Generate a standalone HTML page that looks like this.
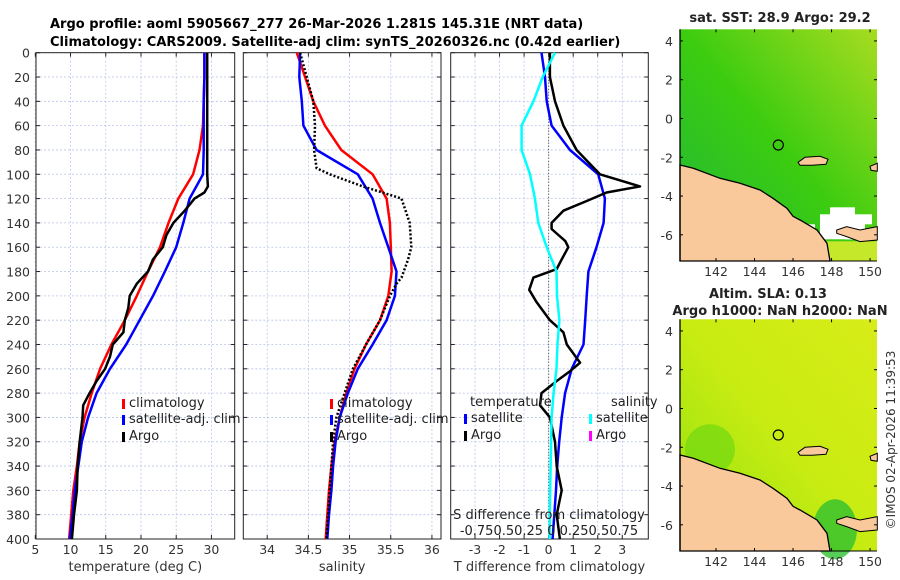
<!DOCTYPE html>
<html><head><meta charset="utf-8"><style>
body{margin:0;background:#fff;width:900px;height:580px;overflow:hidden}
svg{display:block;font-family:"DejaVu Sans","Liberation Sans",sans-serif}
</style></head><body>
<svg id="fig" width="900" height="580" viewBox="0 0 900 580">
<text x="50" y="28" font-size="13" font-weight="bold">Argo profile: aoml 5905667_277 26-Mar-2026 1.281S 145.31E (NRT data)</text>
<text x="50" y="46" font-size="13" font-weight="bold">Climatology: CARS2009. Satellite-adj clim: synTS_20260326.nc (0.42d earlier)</text>
<g id="panels"></g>
<g id="maps"></g>
<text transform="translate(895,440) rotate(-90)" text-anchor="middle" font-size="12" fill="#333">©IMOS 02-Apr-2026 11:39:53</text>
</svg>
<script>
// ---- data ----
const depths = [0,20,40,60,80,100,120,140,160,180,200,220,240,260,280,300,320,340,360,380,400];
const tClim = [29.0,29.0,28.9,28.8,28.3,27.4,25.3,23.9,22.7,21.0,19.4,17.7,15.8,14.2,13.0,12.0,11.3,10.9,10.4,10.1,9.8];
const tSat = [29.0,29.0,28.9,28.9,28.9,28.8,26.9,26.0,25.0,23.4,21.7,19.8,17.9,15.6,13.7,12.5,11.6,11.1,10.6,10.3,9.9];
const argoDepthT = [0,50,100,110,115,120,130,140,150,160,170,180,190,200,210,220,230,240,250,260,270,280,290,300,320,340,360,380,400];
const tArgo = [29.4,29.4,29.4,29.5,29.0,27.6,26.2,24.6,23.6,23.1,21.7,21.0,19.4,18.4,18.2,17.7,17.5,16.0,15.6,14.9,13.7,12.7,11.8,11.7,11.3,11.0,10.9,10.5,10.2];
const sClim = [34.36,34.46,34.56,34.70,34.90,35.28,35.45,35.49,35.50,35.51,35.47,35.37,35.20,35.06,34.96,34.88,34.82,34.78,34.75,34.73,34.71];
const sSat = [34.40,34.39,34.42,34.44,34.60,35.10,35.28,35.37,35.47,35.57,35.55,35.45,35.28,35.10,34.98,34.88,34.83,34.80,34.78,34.75,34.73];
const argoDepthS = [0,20,40,60,80,95,100,110,115,120,140,160,170,185,190,200,220,240,260,280,300,320,340,360,380,400];
const sArgo = [34.40,34.48,34.56,34.58,34.57,34.60,34.76,35.16,35.40,35.63,35.73,35.75,35.71,35.63,35.57,35.49,35.37,35.20,35.04,34.94,34.84,34.80,34.78,34.76,34.74,34.72];
const dtSat = [-0.29,-0.15,-0.08,0.12,0.87,2.02,2.29,2.24,1.95,1.62,1.55,1.49,1.42,0.94,0.67,0.53,0.43,0.35,0.30,0.23,0.16];
const argoDepthD = [0,20,40,60,80,100,110,115,122,130,140,145,155,160,170,178,185,195,205,220,230,240,255,262,270,280,290,300,320,340,360,380,400];
const dtArgo = [0.05,0.05,0.26,0.6,1.14,2.09,3.72,2.36,1.55,0.6,0.12,0.12,0.68,0.8,0.53,0.33,-0.62,-0.79,-0.5,0.05,0.6,0.74,1.28,0.87,0.33,-0.29,-0.35,0.05,0.26,0.33,0.53,0.33,0.46];
const dsSat = [0.065,-0.06,-0.155,-0.275,-0.275,-0.19,-0.14,-0.105,-0.02,0.08,0.085,0.11,0.09,0.08,0.05,0.03,0.025,0.02,0.015,0.012,0.01];
const yTicks = [0,20,40,60,80,100,120,140,160,180,200,220,240,260,280,300,320,340,360,380,400];
const tTicks = [5,10,15,20,25,30];
const sTicks = [34,34.5,35,35.5,36];
const dTicks = [-3,-2,-1,0,1,2,3];

const NS='http://www.w3.org/2000/svg';
function mk(tag,attrs,parent){const e=document.createElementNS(NS,tag);for(const k in attrs)e.setAttribute(k,attrs[k]);(parent||document.getElementById('panels')).appendChild(e);return e;}
const Y0=52.7,Y1=539;
const yS=d=>Y0+(Y1-Y0)*d/400;

function panel(name,x0,x1,vmin,vmax,xt,title){
  const g=mk('g',{});
  
  
  const xS=v=>x0+(x1-x0)*(v-vmin)/(vmax-vmin);
  xt.forEach(v=>{const l=mk('line',{x1:xS(v),x2:xS(v),y1:Y0,y2:Y1,stroke:'#b8c4e8','stroke-width':0.8,'stroke-dasharray':'2,2'},g);});
  yTicks.forEach(d=>{const l=mk('line',{x1:x0,x2:x1,y1:yS(d),y2:yS(d),stroke:'#b8c4e8','stroke-width':0.8,'stroke-dasharray':'2,2'},g);});
  const ax=mk('g',{},g);
  mk('rect',{x:x0,y:Y0,width:x1-x0,height:Y1-Y0,fill:'none',stroke:'#222','stroke-width':1},ax);
  yTicks.forEach(d=>{mk('line',{x1:x0,x2:x0+4,y1:yS(d),y2:yS(d),stroke:'#222'},ax);mk('line',{x1:x1,x2:x1-4,y1:yS(d),y2:yS(d),stroke:'#222'},ax);});
  xt.forEach(v=>{mk('line',{x1:xS(v),x2:xS(v),y1:Y0,y2:Y0+4,stroke:'#222'},ax);mk('line',{x1:xS(v),x2:xS(v),y1:Y1,y2:Y1-4,stroke:'#222'},ax);
    const t=mk('text',{x:xS(v),y:Y1+15,'text-anchor':'middle','font-size':12.5,fill:'#333'},ax);t.textContent=String(v);});
  const tt=mk('text',{x:(x0+x1)/2,y:571,'text-anchor':'middle','font-size':13,fill:'#333'},g);tt.textContent=title;
  
  return {g,xS};
}
function line(p,ds,vs,color,name,dash,w){
  const pts=vs.map((v,i)=>p.xS(v).toFixed(1)+','+yS(ds[i]).toFixed(1)).join(' ');
  const e=mk('polyline',{points:pts,fill:'none',stroke:color,'stroke-width':w||2.5,'stroke-linejoin':'round'},p.g);
  if(dash)e.setAttribute('stroke-dasharray',dash);
  
  
}
function txt(g,x,y,s,name,anchor,size){const t=mk('text',{x:x,y:y,'font-size':size||13,fill:'#222','text-anchor':anchor||'start'},g);t.textContent=s;return t;}
function mark(g,x,y,c,name){const r=mk('rect',{x:x,y:y-9,width:3,height:10,fill:c},g);}

// y tick labels
const yl=mk('g',{});
yTicks.forEach(d=>{txt(yl,30,yS(d)+5,String(d),'y-tick-label','end',12.5).setAttribute('fill','#333');});

// panel 1 temperature
const p1=panel('temperature-panel',36,234.7,5.1,33.3,tTicks,'temperature (deg C)');
line(p1,depths,tClim,'#f00','climatology-temperature-line');
line(p1,depths,tSat,'#00f','satellite-temperature-line');
line(p1,argoDepthT,tArgo,'#000','argo-temperature-line');
const l1=mk('g',{},p1.g);
mark(l1,122,408,'#f00','legend-marker-climatology');txt(l1,129,407,'climatology','legend-climatology');
mark(l1,122,424,'#00f','legend-marker-satellite');txt(l1,129,423,'satellite-adj. clim','legend-satellite');
mark(l1,122,441,'#000','legend-marker-argo');txt(l1,129,440,'Argo','legend-argo');

// panel 2 salinity
const p2=panel('salinity-panel',243.3,441,33.71,36.11,sTicks,'salinity');
line(p2,depths,sClim,'#f00','climatology-salinity-line');
line(p2,depths,sSat,'#00f','satellite-salinity-line');
line(p2,argoDepthS,sArgo,'#000','argo-salinity-line','2,2',2.5);
const l2=mk('g',{},p2.g);
mark(l2,330,408,'#f00','legend-marker-climatology');txt(l2,337,407,'climatology','legend-climatology');
mark(l2,330,424,'#00f','legend-marker-satellite');txt(l2,337,423,'satellite-adj. clim','legend-satellite');
mark(l2,330,441,'#000','legend-marker-argo');txt(l2,337,440,'Argo','legend-argo');

// panel 3 difference
const p3=panel('difference-panel',450.7,648.3,-3.99,4.06,dTicks,'T difference from climatology');
const z=mk('line',{x1:p3.xS(0),x2:p3.xS(0),y1:Y0,y2:Y1,stroke:'#444','stroke-width':1,'stroke-dasharray':'1,2'},p3.g);

line(p3,depths,dtSat,'#00f','satellite-temperature-difference-line');
line(p3,argoDepthD,dtArgo,'#000','argo-temperature-difference-line');
line(p3,depths,dsSat.map(v=>v*4),'#0ff','satellite-salinity-difference-line');
const l3=mk('g',{},p3.g);
txt(l3,470,406,'temperature','legend-temperature-heading');
txt(l3,611,406,'salinity','legend-salinity-heading');
mark(l3,464,423,'#00f','legend-marker-t-satellite');txt(l3,471,422,'satellite','legend-t-satellite');
mark(l3,464,440,'#000','legend-marker-t-argo');txt(l3,471,439,'Argo','legend-t-argo');
mark(l3,589,423,'#0ff','legend-marker-s-satellite');txt(l3,596,422,'satellite','legend-s-satellite');
mark(l3,589,440,'#f0f','legend-marker-s-argo');txt(l3,596,439,'Argo','legend-s-argo');
txt(l3,549,519,'S difference from climatology','s-axis-title','middle');
txt(l3,549,535,'-0.750.50.25 0 0.250.50.75','s-axis-tick-labels','middle');

// ---- maps ----
const lonTicks=[142,144,146,148,150];
const latTicks=[4,2,0,-2,-4,-6];
const mg=document.getElementById('maps');
function map(name,top,fill1,fill2,fill3,titles){
  const g=mk('g',{},mg);
  const L=680,R=877,H=231.7,B=top+H;
  const lx=v=>L+(R-L)*(v-140.13)/(150.36-140.13);
  const ly=v=>top+H*(4.6-v)/(4.6+7.35);
  const gid=name+'-grad';
  const defs=mk('defs',{},g);
  const lg=mk('linearGradient',{id:gid,x1:0,y1:1,x2:1,y2:0},defs);
  mk('stop',{offset:0,'stop-color':fill1},lg);mk('stop',{offset:0.5,'stop-color':fill2},lg);mk('stop',{offset:1,'stop-color':fill3},lg);
  const bg=mk('rect',{x:L,y:top,width:R-L,height:H,fill:'url(#'+gid+')'},g);
  return {g,L,R,top,B,lx,ly};
}
function land(m){
  const c=[[0,135.7],[13.3,139],[40,149],[60,154],[80,160.7],[93,169],[107,179],[113,187],[120,190.7],[137,200.7],[147,214],[150,231.7],[0,231.7]];
  const pts=c.map(p=>(m.L+p[0])+','+(m.top+p[1])).join(' ');
  const e=mk('polygon',{points:pts,fill:'#f9c99b',stroke:'#000','stroke-width':1.3},m.g);
  const c2=[[156.7,200.7],[166.7,197.3],[180,200.7],[197.3,197.3],[197.3,210.7],[180,212.3],[166.7,207.3],[156.7,204]];
  const e2=mk('polygon',{points:c2.map(p=>(m.L+p[0])+','+(m.top+p[1])).join(' '),fill:'#f9c99b',stroke:'#000','stroke-width':1},m.g);
  const c3=[[118,133],[125,128],[140,127],[148,130],[146,135],[132,136],[120,136]];
  const e3=mk('polygon',{points:c3.map(p=>(m.L+p[0])+','+(m.top+p[1])).join(' '),fill:'#f9c99b',stroke:'#000','stroke-width':1},m.g);
  const c4=[[190,137],[197.3,134],[197.3,142],[191,141]];
  const e4=mk('polygon',{points:c4.map(p=>(m.L+p[0])+','+(m.top+p[1])).join(' '),fill:'#f9c99b',stroke:'#000','stroke-width':1},m.g);
  const ci=mk('circle',{cx:m.L+98.3,cy:m.top+115.7,r:5,fill:'none',stroke:'#000','stroke-width':1.2},m.g);
}
function mapAxes(m){
  const a=mk('g',{},m.g);
  mk('line',{x1:m.L,x2:m.L,y1:m.top,y2:m.B,stroke:'#000','stroke-width':1.3},a);
  mk('line',{x1:m.L,x2:m.R,y1:m.B,y2:m.B,stroke:'#000','stroke-width':1},a);
  lonTicks.forEach(v=>{mk('line',{x1:m.lx(v),x2:m.lx(v),y1:m.B,y2:m.B-3,stroke:'#000'},a);mk('line',{x1:m.lx(v),x2:m.lx(v),y1:m.top,y2:m.top+3,stroke:'#000'},a);
    const t=txt(a,m.lx(v),m.B+15,String(v),'lon-tick-label','middle',12.5);t.setAttribute('fill','#333');});
  latTicks.forEach(v=>{mk('line',{x1:m.L,x2:m.L+3,y1:m.ly(v),y2:m.ly(v),stroke:'#000'},a);mk('line',{x1:m.R,x2:m.R-3,y1:m.ly(v),y2:m.ly(v),stroke:'#000'},a);
    const t=txt(a,m.L-7,m.ly(v)+5,String(v),'lat-tick-label','end',12.5);t.setAttribute('fill','#333');});
}
const m1=map('sst-map',29.3,'#1fb83a','#3ccc10','#a8dc20');
// white missing-data patches
[[140,185,40,25],[150,178,25,12],[165,192,20,18],[113,195,22,15],[180,185,12,10]].forEach(r=>{const e=mk('rect',{x:m1.L+r[0],y:m1.top+r[1],width:r[2],height:r[3],fill:'#fff'},m1.g);});
const yb=mk('rect',{x:m1.L+137,y:m1.top+212,width:60,height:20,fill:'#c6e82a'},m1.g);
land(m1);mapAxes(m1);
txt(m1.g,780,22,'sat. SST: 28.9 Argo: 29.2','sst-map-title','middle').setAttribute('font-weight','bold');
const m2=map('sla-map',319.3,'#90e010','#c8ec12','#d8ec18');
const gp=mk('ellipse',{cx:m2.L+155,cy:m2.top+210,rx:22,ry:30,fill:'#30c030',opacity:0.8},m2.g);
const gp2=mk('ellipse',{cx:m2.L+30,cy:m2.top+130,rx:25,ry:25,fill:'#70d810',opacity:0.7},m2.g);
land(m2);mapAxes(m2);
txt(m2.g,768,298,'Altim. SLA: 0.13','sla-map-title-1','middle').setAttribute('font-weight','bold');
txt(m2.g,780,315,'Argo h1000: NaN h2000: NaN','sla-map-title-2','middle').setAttribute('font-weight','bold');
</script>
</body></html>
